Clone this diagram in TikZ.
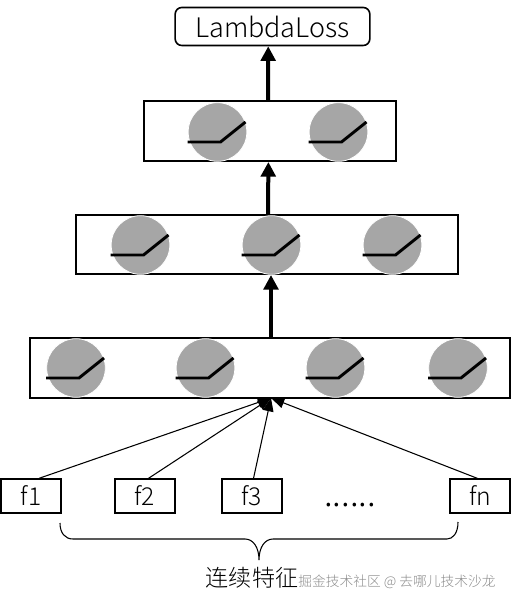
\documentclass[tikz,border=0pt]{standalone}
\usepackage{fontspec}
\setmainfont{Noto Sans CJK SC Light}
\usepackage{xcolor}
\usetikzlibrary{arrows.meta, positioning}

\begin{document}
\begin{tikzpicture}[
    x=0.75pt, y=-0.75pt,
    layer/.style={draw, line width=1.5pt, inner sep=0pt},
    feat/.style={draw, line width=1.5pt, inner sep=0pt, minimum width=45pt, minimum height=25pt, font=\fontsize{18.5}{20}\selectfont},
    loss/.style={draw, line width=1.2pt, rounded corners=5pt, inner sep=0pt, minimum width=146pt, minimum height=28.5pt, font=\fontsize{20.2}{22}\selectfont},
    neuron/.style={circle, draw=white, line width=0.6pt, fill=black!35, inner sep=0pt, minimum size=44pt},
    ramp/.style={line width=2.2pt},
    arr/.style={-{Triangle[width=11pt,length=11pt]}, line width=3pt},
    inarr/.style={-{Triangle[width=8pt,length=10pt]}, line width=0.8pt},
]
\useasboundingbox (0,0) rectangle (511,605);

% --- Couches ---
\node[loss] (lossbox) at (272.5, 26.5) {LambdaLoss};
\node[layer, minimum width=189pt, minimum height=45pt] (layerc) at (270, 131) {};
\node[layer, minimum width=286.5pt, minimum height=44.25pt] (layerb) at (267, 244.5) {};
\node[layer, minimum width=360pt, minimum height=45pt] (layera) at (270, 368) {};

% --- Neurones ---
\foreach \nname/\xpos/\ypos in {c1/217.5/132, c2/338.5/132, b1/140.5/245, b2/271.5/245, b3/392.5/245, a1/76/368, a2/205.5/368, a3/335.5/368, a4/458/368} {
  \node[neuron] (\nname) at (\xpos, \ypos) {};
  \draw[ramp] ([shift={(-30,10)}]\nname.center) -- ([shift={(3,10)}]\nname.center) -- ([shift={(28,-10)}]\nname.center);
}

% --- Flux principal ---
\draw[arr] ([xshift=0.75pt]layera.north) -- ([xshift=3pt]layerb.south);
\draw[arr] ([xshift=0.75pt]layerb.north) -- ([xshift=-1.2pt]layerc.south);
\draw[arr] ([xshift=-1.5pt]layerc.north) -- ([xshift=-3.2pt]lossbox.south);

% --- Entrees ---
\node[feat] (f1) at (31, 496) {f1};
\node[feat] (f2) at (144.5, 496) {f2};
\node[feat] (f3) at (251.5, 496) {f3};
\node[feat] (fn) at (480, 496) {fn};
\node[font=\fontsize{26}{28}\selectfont] (dots) at (350, 505) {......};

\coordinate (merge) at (271, 398);
\foreach \fname/\xoff in {f1/6, f2/3, f3/1.5, fn/-2} {
  \draw[inarr] ([xshift=\xoff pt]\fname.north) -- (merge);
}

% --- Accolade ---
\draw[line width=0.8pt] (60, 523) .. controls (60, 533) and (65, 539) .. (73, 539) -- (245, 539)
  .. controls (253, 539) and (259, 547) .. (259, 560) .. controls (259, 547) and (265, 539) .. (273, 539)
  -- (447, 539) .. controls (453, 539) and (458, 533) .. (458, 522);

\node[font=\fontsize{17.3}{20}\selectfont, inner sep=0pt] (caption) at (252, 578) {连续特征};
\node[font=\fontsize{10.3}{13}\selectfont, text=black!45, inner sep=0pt] (mark) at (397, 581.5) {掘金技术社区 @ 去哪儿技术沙龙};

\end{tikzpicture}
\end{document}
